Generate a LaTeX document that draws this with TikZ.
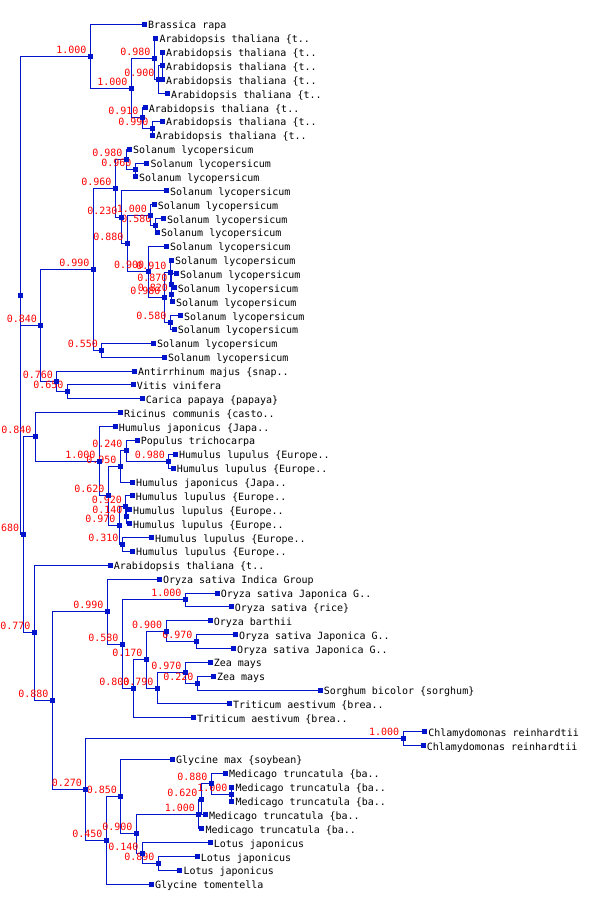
\documentclass[tikz,border=0pt]{standalone}
\usepackage{fontspec}
\newfontfamily\monof{DejaVu Sans Mono}
\definecolor{tb}{RGB}{0,20,204}
\definecolor{tr}{RGB}{255,0,0}
\pgfdeclarelayer{bgl}
\pgfdeclarelayer{edges}
\pgfsetlayers{bgl,edges,main}
\newcommand\lv[4]{\node[sq] (#1) at (#2,{24.3+13.871*(#3-1)}) {};\node[lft] (#1t) at ([xshift=3.6pt,yshift=-4.5pt]#1.center) {#4};}
\newcommand\iv[4]{\node[sq] (#1) at (#2,#3) {};\node[bsl] (#1t) at ([xshift=-3.6pt,yshift=3pt]#1.center) {#4};}
\newcommand\tedge[2]{\draw[br] (#1.center) |- (#2.center);}
\begin{document}
\begin{tikzpicture}[x=1pt,y=-1pt,
 br/.style={draw=tb,line width=1pt},
 sq/.style={rectangle,fill=tb,minimum size=5pt,inner sep=0pt,outer sep=0pt},
 lft/.style={anchor=base west,inner sep=0pt,font=\monof\fontsize{10}{12}\selectfont,text=black},
 bsl/.style={anchor=base east,inner sep=0pt,font=\monof\fontsize{10}{12}\selectfont,text=tr}]
\begin{pgfonlayer}{bgl}
\fill[white] (0,0) rectangle (600,922);
\end{pgfonlayer}
\useasboundingbox (0,0) rectangle (600,922);
% leaves
\lv{L1}{144.3}{1}{Brassica rapa}
\lv{L2}{155.7}{2}{Arabidopsis thaliana \{t..}
\lv{L3}{162.3}{3}{Arabidopsis thaliana \{t..}
\lv{L4}{162.3}{4}{Arabidopsis thaliana \{t..}
\lv{L5}{162.3}{5}{Arabidopsis thaliana \{t..}
\lv{L6}{167.3}{6}{Arabidopsis thaliana \{t..}
\lv{L7}{145}{7}{Arabidopsis thaliana \{t..}
\lv{L8}{162.3}{8}{Arabidopsis thaliana \{t..}
\lv{L9}{152.3}{9}{Arabidopsis thaliana \{t..}
\lv{L10}{129.3}{10}{Solanum lycopersicum}
\lv{L11}{146.7}{11}{Solanum lycopersicum}
\lv{L12}{135.3}{12}{Solanum lycopersicum}
\lv{L13}{166.3}{13}{Solanum lycopersicum}
\lv{L14}{154}{14}{Solanum lycopersicum}
\lv{L15}{163.3}{15}{Solanum lycopersicum}
\lv{L16}{157.3}{16}{Solanum lycopersicum}
\lv{L17}{166.3}{17}{Solanum lycopersicum}
\lv{L18}{171.3}{18}{Solanum lycopersicum}
\lv{L19}{176.3}{19}{Solanum lycopersicum}
\lv{L20}{174}{20}{Solanum lycopersicum}
\lv{L21}{172.3}{21}{Solanum lycopersicum}
\lv{L22}{180.3}{22}{Solanum lycopersicum}
\lv{L23}{174}{23}{Solanum lycopersicum}
\lv{L24}{153.3}{24}{Solanum lycopersicum}
\lv{L25}{164.3}{25}{Solanum lycopersicum}
\lv{L26}{134.3}{26}{Antirrhinum majus \{snap..}
\lv{L27}{133}{27}{Vitis vinifera}
\lv{L28}{142}{28}{Carica papaya \{papaya\}}
\lv{L29}{120.3}{29}{Ricinus communis \{casto..}
\lv{L30}{115}{30}{Humulus japonicus \{Japa..}
\lv{L31}{137}{31}{Populus trichocarpa}
\lv{L32}{175.3}{32}{Humulus lupulus \{Europe..}
\lv{L33}{173}{33}{Humulus lupulus \{Europe..}
\lv{L34}{132.3}{34}{Humulus japonicus \{Japa..}
\lv{L35}{132}{35}{Humulus lupulus \{Europe..}
\lv{L36}{129.3}{36}{Humulus lupulus \{Europe..}
\lv{L37}{129.3}{37}{Humulus lupulus \{Europe..}
\lv{L38}{151.3}{38}{Humulus lupulus \{Europe..}
\lv{L39}{132.3}{39}{Humulus lupulus \{Europe..}
\lv{L40}{110}{40}{Arabidopsis thaliana \{t..}
\lv{L41}{159.3}{41}{Oryza sativa Indica Group}
\lv{L42}{217}{42}{Oryza sativa Japonica G..}
\lv{L43}{231}{43}{Oryza sativa \{rice\}}
\lv{L44}{210}{44}{Oryza barthii}
\lv{L45}{235.3}{45}{Oryza sativa Japonica G..}
\lv{L46}{233.3}{46}{Oryza sativa Japonica G..}
\lv{L47}{210}{47}{Zea mays}
\lv{L48}{213.3}{48}{Zea mays}
\lv{L49}{320}{49}{Sorghum bicolor \{sorghum\}}
\lv{L50}{229.3}{50}{Triticum aestivum \{brea..}
\lv{L51}{193.3}{51}{Triticum aestivum \{brea..}
\lv{L52}{424.5}{52}{Chlamydomonas reinhardtii}
\lv{L53}{423}{53}{Chlamydomonas reinhardtii}
\lv{L54}{172.3}{54}{Glycine max \{soybean\}}
\lv{L55}{225.3}{55}{Medicago truncatula \{ba..}
\lv{L56}{231.7}{56}{Medicago truncatula \{ba..}
\lv{L57}{231.7}{57}{Medicago truncatula \{ba..}
\lv{L58}{205.3}{58}{Medicago truncatula \{ba..}
\lv{L59}{201.7}{59}{Medicago truncatula \{ba..}
\lv{L60}{210}{60}{Lotus japonicus}
\lv{L61}{197}{61}{Lotus japonicus}
\lv{L62}{179.7}{62}{Lotus japonicus}
\lv{L63}{151.3}{63}{Glycine tomentella}
% internal nodes
\node[sq] (root) at (20.3,295.67) {};
\node[sq] (dnode) at (162.3,65.91) {};
\iv{c900}{158.3}{79.78}{0.900}
\iv{a980}{154.3}{58.98}{0.980}
\iv{b990}{152.3}{128.34}{0.990}
\iv{b910}{142.3}{117.93}{0.910}
\iv{nar}{131.3}{88.45}{1.000}
\iv{nbras}{90.3}{56.38}{1.000}
\iv{b960}{135.3}{169.95}{0.960}
\iv{b980}{126.3}{159.54}{0.980}
\iv{d580}{155.3}{225.43}{0.580}
\iv{d1000}{150.7}{215.03}{1.000}
\iv{i820}{171.8}{294.79}{0.820}
\iv{h870}{171.3}{284.38}{0.870}
\iv{g910}{170.3}{272.25}{0.910}
\iv{j580}{170.3}{322.53}{0.580}
\iv{f980}{164.3}{297.39}{0.980}
\iv{e900}{148}{271.82}{0.900}
\iv{c880}{127.3}{243.43}{0.880}
\iv{c230}{121.3}{217.09}{0.230}
\iv{a960}{115.3}{188.32}{0.960}
\iv{a550}{101.7}{350.27}{0.550}
\iv{a990}{93.3}{269.30}{0.990}
\iv{k650}{67.3}{391.89}{0.650}
\iv{a760}{56.7}{381.48}{0.760}
\iv{a840}{40.7}{325.39}{0.840}
\iv{p980}{168.7}{461.24}{0.980}
\iv{o240}{126.3}{450.84}{0.240}
\iv{n950}{120.3}{466.44}{0.950}
\iv{s140}{126.3}{516.72}{0.140}
\iv{r920}{125.7}{506.32}{0.920}
\iv{t310}{122.3}{544.47}{0.310}
\iv{q970}{119.3}{525.40}{0.970}
\iv{m620}{108.3}{495.92}{0.620}
\iv{l1000}{99.3}{461.24}{1.000}
\iv{b840}{35.3}{436.97}{0.840}
\iv{z1000}{185.3}{599.95}{1.000}
\iv{ae970}{196.3}{641.56}{0.970}
\iv{ac900}{166}{631.16}{0.900}
\iv{ag220}{197.3}{683.18}{0.220}
\iv{af970}{185.3}{672.77}{0.970}
\iv{ad790}{157.3}{688.38}{0.790}
\iv{ab170}{146.3}{659.77}{0.170}
\iv{aa800}{133.3}{688.81}{0.800}
\iv{y580}{122.3}{644.38}{0.580}
\iv{w990}{107.3}{611.76}{0.990}
\iv{chl}{403}{738.66}{1.000}
\iv{ao1000}{231.3}{794.14}{1.000}
\iv{an880}{211.3}{783.73}{0.880}
\iv{am620}{201.3}{799.34}{0.620}
\iv{ak1000}{198.7}{814.08}{1.000}
\iv{ap890}{158.3}{863.50}{0.890}
\iv{al140}{142.3}{853.09}{0.140}
\iv{aj900}{136.3}{833.59}{0.900}
\iv{ah850}{120.7}{796.52}{0.850}
\iv{ai450}{106.3}{840.41}{0.450}
\iv{x270}{85.7}{789.54}{0.270}
\iv{v880}{52.3}{700.65}{0.880}
\iv{u770}{34.3}{632.96}{0.770}
\iv{r0}{23}{534.97}{680}
% connectors
\begin{pgfonlayer}{edges}
\tedge{root}{nbras}\tedge{root}{a840}\tedge{root}{r0}
\tedge{nbras}{L1}\tedge{nbras}{nar}
\tedge{nar}{a980}\tedge{nar}{b910}
\tedge{a980}{L2}\tedge{a980}{c900}
\tedge{c900}{dnode}\tedge{c900}{L6}
\tedge{dnode}{L3}\tedge{dnode}{L4}\tedge{dnode}{L5}
\tedge{b910}{L7}\tedge{b910}{b990}
\tedge{b990}{L8}\tedge{b990}{L9}
\tedge{a840}{a990}\tedge{a840}{a760}
\tedge{a990}{a960}\tedge{a990}{a550}
\tedge{a960}{b980}\tedge{a960}{c230}
\tedge{b980}{L10}\tedge{b980}{b960}
\tedge{b960}{L11}\tedge{b960}{L12}
\tedge{c230}{L13}\tedge{c230}{c880}
\tedge{c880}{d1000}\tedge{c880}{e900}
\tedge{d1000}{L14}\tedge{d1000}{d580}
\tedge{d580}{L15}\tedge{d580}{L16}
\tedge{e900}{L17}\tedge{e900}{f980}
\tedge{f980}{g910}\tedge{f980}{j580}
\tedge{g910}{L18}\tedge{g910}{h870}
\tedge{h870}{L19}\tedge{h870}{i820}
\tedge{i820}{L20}\tedge{i820}{L21}
\tedge{j580}{L22}\tedge{j580}{L23}
\tedge{a550}{L24}\tedge{a550}{L25}
\tedge{a760}{L26}\tedge{a760}{k650}
\tedge{k650}{L27}\tedge{k650}{L28}
\tedge{r0}{b840}\tedge{r0}{u770}
\tedge{b840}{L29}\tedge{b840}{l1000}
\tedge{l1000}{L30}\tedge{l1000}{m620}
\tedge{m620}{n950}\tedge{m620}{q970}
\tedge{n950}{o240}\tedge{n950}{L34}
\tedge{o240}{L31}\tedge{o240}{p980}
\tedge{p980}{L32}\tedge{p980}{L33}
\tedge{q970}{r920}\tedge{q970}{t310}
\tedge{r920}{L35}\tedge{r920}{s140}
\tedge{s140}{L36}\tedge{s140}{L37}
\tedge{t310}{L38}\tedge{t310}{L39}
\tedge{u770}{L40}\tedge{u770}{v880}
\tedge{v880}{w990}\tedge{v880}{x270}
\tedge{w990}{L41}\tedge{w990}{y580}
\tedge{y580}{z1000}\tedge{y580}{aa800}
\tedge{z1000}{L42}\tedge{z1000}{L43}
\tedge{aa800}{ab170}\tedge{aa800}{L51}
\tedge{ab170}{ac900}\tedge{ab170}{ad790}
\tedge{ac900}{L44}\tedge{ac900}{ae970}
\tedge{ae970}{L45}\tedge{ae970}{L46}
\tedge{ad790}{af970}\tedge{ad790}{L50}
\tedge{af970}{L47}\tedge{af970}{ag220}
\tedge{ag220}{L48}\tedge{ag220}{L49}
\tedge{x270}{chl}\tedge{x270}{ai450}
\tedge{chl}{L52}\tedge{chl}{L53}
\tedge{ai450}{ah850}\tedge{ai450}{L63}
\tedge{ah850}{L54}\tedge{ah850}{aj900}
\tedge{aj900}{ak1000}\tedge{aj900}{al140}
\tedge{ak1000}{am620}\tedge{ak1000}{L59}
\tedge{am620}{an880}\tedge{am620}{L58}
\tedge{an880}{L55}\tedge{an880}{ao1000}
\tedge{ao1000}{L56}\tedge{ao1000}{L57}
\tedge{al140}{L60}\tedge{al140}{ap890}
\tedge{ap890}{L61}\tedge{ap890}{L62}
\end{pgfonlayer}
\end{tikzpicture}
\end{document}
